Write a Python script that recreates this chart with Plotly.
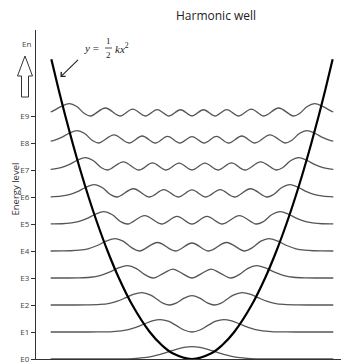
import plotly.graph_objects as go

# ---------------- data ----------------
level_values = [0, 1, 2, 3, 4, 5, 6, 7, 8, 9]
level_labels = ["E0", "E1", "E2", "E3", "E4", "E5", "E6", "E7", "E8", "E9"]
top_label = "En"
top_level = 11.7

# potential well y = 1/2 k x^2
well_x = [-4.43, -4.205, -3.989, -3.761, -3.518, -3.257, -2.973, -2.659, -2.303, -1.88, -1.33, -0.94, -0.595, 0,
          0.595, 0.94, 1.33, 1.88, 2.303, 2.659, 2.973, 3.257, 3.518, 3.761, 3.989, 4.205, 4.43]
well_y = [11.1, 10, 9, 8, 7, 6, 5, 4, 3, 2, 1, 0.5, 0.2, 0,
          0.2, 0.5, 1, 2, 3, 4, 5, 6, 7, 8, 9, 10, 11.1]

# probability-density profiles (right half, relative height) for each level
psi0_x = [0, 0.25, 0.5, 0.75, 1.0, 1.25, 1.5, 1.75, 2.0, 2.5, 3.0, 4.45]
psi0_f = [1, 0.939, 0.779, 0.570, 0.368, 0.210, 0.105, 0.047, 0.018, 0.002, 0, 0]

psi1_x = [0, 0.25, 0.5, 0.75, 1.0, 1.25, 1.5, 1.75, 2.0, 2.5, 3.0, 3.5, 4.45]
psi1_f = [0, 0.16, 0.529, 0.871, 1, 0.89, 0.645, 0.39, 0.199, 0.033, 0.003, 0, 0]

psi2_x = [0, 0.25, 0.5, 0.707, 0.9, 1.1, 1.3, 1.58, 1.85, 2.1, 2.35, 2.6, 2.9, 3.3, 3.8, 4.45]
psi2_f = [0.762, 0.548, 0.148, 0, 0.130, 0.458, 0.796, 1, 0.85, 0.567, 0.307, 0.138, 0.043, 0.006, 0, 0]

psi3_x = [0, 0.3, 0.6, 0.9, 1.2247, 1.5, 1.75, 2.03, 2.3, 2.6, 2.9, 3.2, 3.6, 4.0, 4.45]
psi3_f = [0, 0.356, 0.71, 0.373, 0, 0.29, 0.761, 1, 0.834, 0.472, 0.195, 0.061, 0.009, 0, 0]

psi4_x = [0, 0.5246, 1.088, 1.6507, 1.9, 2.17, 2.42, 2.725, 3.0, 3.275, 3.55, 3.83, 4.1, 4.45]
psi4_f = [0.643, 0, 0.685, 0, 0.27, 0.797, 1, 0.77, 0.423, 0.175, 0.064, 0.018, 0.004, 0]

psi5_x = [0, 0.47, 0.9586, 1.49, 2.0202, 2.253, 2.519, 2.775, 3.051, 3.317, 3.583, 3.849, 4.115, 4.45]
psi5_f = [0, 0.609, 0, 0.674, 0, 0.2, 0.76, 1, 0.78, 0.43, 0.185, 0.064, 0.018, 0.003]

psi6_x = [0, 0.4361, 0.886, 1.3358, 1.843, 2.3506, 2.571, 2.83, 3.079, 3.347, 3.606, 3.865, 4.124, 4.45]
psi6_f = [0.57, 0, 0.588, 0, 0.663, 0, 0.2, 0.76, 1, 0.78, 0.43, 0.185, 0.064, 0.015]

psi7_x = [0, 0.408, 0.8162, 1.245, 1.6736, 2.163, 2.652, 2.862, 3.115, 3.358, 3.62, 3.873, 4.126, 4.378, 4.45]
psi7_f = [0, 0.547, 0, 0.574, 0, 0.655, 0, 0.2, 0.76, 1, 0.78, 0.43, 0.185, 0.064, 0.05]

psi8_x = [0, 0.3812, 0.769, 1.1571, 1.569, 1.9817, 2.456, 2.9306, 3.133, 3.381, 3.619, 3.876, 4.123, 4.37, 4.45]
psi8_f = [0.521, 0, 0.531, 0, 0.564, 0, 0.649, 0, 0.2, 0.76, 1, 0.78, 0.43, 0.185, 0.15]

psi9_x = [0, 0.362, 0.7236, 1.096, 1.4686, 1.868, 2.2666, 2.729, 3.191, 3.387, 3.63, 3.864, 4.116, 4.359, 4.45]
psi9_f = [0, 0.504, 0, 0.519, 0, 0.556, 0, 0.644, 0, 0.2, 0.76, 1, 0.78, 0.43, 0.32]

profiles_x = [psi0_x, psi1_x, psi2_x, psi3_x, psi4_x, psi5_x, psi6_x, psi7_x, psi8_x, psi9_x]
profiles_f = [psi0_f, psi1_f, psi2_f, psi3_f, psi4_f, psi5_f, psi6_f, psi7_f, psi8_f, psi9_f]
wave_height = 0.46

# ---------------- layout geometry (window pixels) ----------------
OFF = 8                      # page body margin
W, H = 352 - OFF, 364 - OFF  # figure size
L, R, T, B = 36, 341, 30, 359  # plot area in window pixels
X_MIN, X_MAX = -4.913, 4.693
Y_MAX = 12.185


def pxp(x):
    return (x - L) / (R - L)


def pyp(y):
    return (B - y) / (B - T)


def mirror(xs, fs):
    mx = [-x for x in reversed(xs) if x != 0] + list(xs)
    mf = [f for x, f in zip(reversed(xs), reversed(fs)) if x != 0] + list(fs)
    return mx, mf


fig = go.Figure()

wave_color = "#555555"
for lvl, xs, fs in zip(level_values, profiles_x, profiles_f):
    mx, mf = mirror(xs, fs)
    fig.add_trace(go.Scatter(
        x=mx, y=[lvl + wave_height * f for f in mf], mode="lines",
        line=dict(color=wave_color, width=1.3, shape="spline", smoothing=1.0),
        hoverinfo="skip", showlegend=False))

fig.add_trace(go.Scatter(
    x=well_x, y=well_y, mode="lines",
    line=dict(color="#000000", width=2.2, shape="spline", smoothing=1.0),
    hoverinfo="skip", showlegend=False))

annotations = []
# title
annotations.append(dict(x=pxp(216), y=pyp(15), xref="paper", yref="paper", text="Harmonic well",
                        showarrow=False, font=dict(family="Open Sans", size=12, color="#222222"),
                        xanchor="center", yanchor="middle", borderpad=0))
# En label
annotations.append(dict(x=0, y=top_level, xref="paper", yref="y", text=top_label, showarrow=False,
                        xanchor="right", yanchor="middle", xshift=-3,
                        font=dict(family="Open Sans", size=8, color="#444444")))
# Energy level axis title
annotations.append(dict(x=pxp(14.5), y=pyp(189), xref="paper", yref="paper", text="Energy level",
                        showarrow=False, textangle=-90, xanchor="center", yanchor="middle",
                        borderpad=0,
                        font=dict(family="Open Sans", size=9.5, color="#333333")))
# X label
annotations.append(dict(x=1, y=0, xref="paper", yref="y", text="X", showarrow=False,
                        xanchor="left", yanchor="middle", xshift=3, yshift=1, borderpad=0,
                        font=dict(family="Open Sans", size=10, color="#333333")))
# formula y = 1/2 k x^2
serif = "Liberation Serif"
annotations.append(dict(x=pxp(91), y=pyp(48), xref="paper", yref="paper", text="<i>y</i> =",
                        showarrow=False, xanchor="center", yanchor="middle",
                        font=dict(family=serif, size=11, color="#222222")))
annotations.append(dict(x=pxp(108.5), y=pyp(41.5), xref="paper", yref="paper", text="1",
                        showarrow=False, xanchor="center", yanchor="middle",
                        font=dict(family=serif, size=9, color="#222222")))
annotations.append(dict(x=pxp(108.5), y=pyp(55), xref="paper", yref="paper", text="2",
                        showarrow=False, xanchor="center", yanchor="middle",
                        font=dict(family=serif, size=9, color="#222222")))
annotations.append(dict(x=pxp(113), y=pyp(48), xref="paper", yref="paper",
                        text="<i>kx</i><sup>2</sup>",
                        showarrow=False, xanchor="left", yanchor="middle",
                        font=dict(family=serif, size=11, color="#222222")))
# arrow to the well
annotations.append(dict(x=pxp(60.5), y=pyp(77), xref="paper", yref="paper", text=" ",
                        showarrow=True, ax=20.5, ay=-20, arrowhead=4, arrowsize=1.1,
                        arrowwidth=1.1, arrowcolor="#222222"))

shapes = []
# fraction bar
shapes.append(dict(type="line", xref="paper", yref="paper", x0=pxp(105), x1=pxp(112),
                   y0=pyp(48), y1=pyp(48), line=dict(color="#222222", width=0.8)))
# hollow up arrow
pts = [(25, 56), (32.5, 76), (28.5, 76), (28.5, 97), (21.5, 97), (21.5, 76), (17.5, 76)]
path = "M " + " L ".join(f"{pxp(a):.5f},{pyp(b):.5f}" for a, b in pts) + " Z"
shapes.append(dict(type="path", xref="paper", yref="paper", path=path,
                   line=dict(color="#333333", width=1), fillcolor="white"))

fig.update_layout(
    width=W, height=H,
    margin=dict(l=L - OFF, r=W - (R - OFF), t=T - OFF, b=H - (B - OFF), autoexpand=False),
    paper_bgcolor="white", plot_bgcolor="white",
    showlegend=False,
    annotations=annotations, shapes=shapes,
    xaxis=dict(range=[X_MIN, X_MAX], showgrid=False, zeroline=False, showticklabels=False,
               ticks="", showline=True, linecolor="#333333", linewidth=1, fixedrange=True),
    yaxis=dict(range=[0, Y_MAX], showgrid=False, zeroline=False, showline=True,
               linecolor="#333333", linewidth=1, ticks="outside", ticklen=4, tickcolor="#333333",
               tickvals=level_values, ticktext=level_labels,
               tickfont=dict(family="Open Sans", size=8, color="#444444"), fixedrange=True),
)

fig.write_html("out.html")
